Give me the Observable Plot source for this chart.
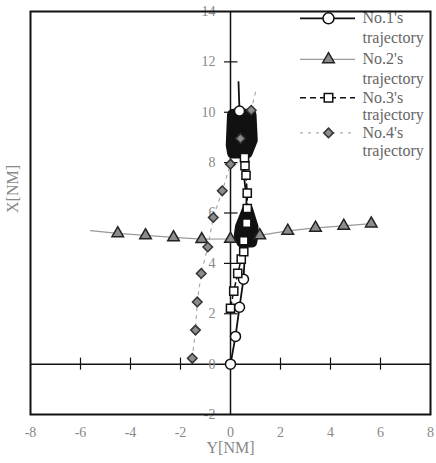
<!DOCTYPE html>
<html>
<head>
<meta charset="utf-8">
<script src="https://cdn.jsdelivr.net/npm/d3@7"></script>
<script src="https://cdn.jsdelivr.net/npm/@observablehq/plot@0.6"></script>
<style>
  html, body { margin: 0; padding: 0; background: #fff; }
  #chart svg { display: block; font-family: "Liberation Serif", "Times New Roman", serif; }
  #chart svg text { font-family: "Liberation Serif", "Times New Roman", serif; }
</style>
</head>
<body>
<div id="chart"></div>
<script>
// ---- Data (Y = horizontal, X = vertical, in NM) ----
const seriesNames = ["No.1's", "No.2's", "No.3's", "No.4's"];
const seriesSuffix = "trajectory";

// No.1: trajectory path and its visible markers
const no1Path = [[0,0],[0.2,1.1],[0.36,2.26],[0.52,3.37],[0.58,4.5],[0.62,5.6],[0.64,6.6],[0.5,7.8],[0.45,8.9],[0.36,10.05],[0.32,11.2]];
const no1Marks = [[0,0],[0.2,1.1],[0.36,2.26],[0.52,3.37],[0.36,10.05]];
// dense overlapping (black) parts of the trajectories
const denseUpper = [[0.1,9.9],[0.8,9.9],[0.15,9.45],[0.75,9.45],[0.05,8.7],[0.85,8.9],[0.1,8.4],[0.65,8.4]];
const denseLower = [[0.68,6.15],[0.4,5.45],[0.9,5.45],[0.35,5.1],[0.9,5.1],[0.45,4.85],[0.85,4.85]];

// No.2
const no2Y = [-5.6,-4.51,-3.4,-2.28,-1.15,0,1.17,2.29,3.4,4.53,5.63];
const no2X = [5.3,5.19,5.11,5.03,4.96,4.97,5.11,5.29,5.41,5.49,5.58];

// No.3
const no3 = [[0,2.22],[0.13,2.9],[0.29,3.6],[0.43,4.17],[0.53,4.46],[0.53,4.9],[0.65,5.6],[0.67,6.18],[0.67,6.79],[0.62,7.5],[0.58,7.88],[0.56,8.2]];

// No.4
const no4 = [[-1.53,0.23],[-1.4,1.35],[-1.33,2.47],[-1.17,3.6],[-0.91,4.65],[-0.69,5.82],[-0.33,6.88],[0,7.94],[0.4,8.96],[0.83,10.08]];
const no4End = [1.0,10.8];

// Ticks
const xTickLabels = [-8,-6,-4,-2,0,2,4,6,8];
const yTickLabels = [-2,0,2,4,6,8,10,12,14];
const xTickMarks = [-6,-4,-2,2,4,6];
const yTickMarks = [2,4,6,8,10,12];

// ---- Build ----
const no2 = no2Y.map((y, i) => [y, no2X[i]]);
const no4Path = [...no4, no4End];

const font = "Liberation Serif, Times New Roman, serif";

// legend layout (in data coordinates)
const legY = [13.73, 12.1, 10.58, 9.18];
const legY2 = [12.94, 11.34, 9.88, 8.45];
const legX1 = 2.8, legX2 = 5.0, legXm = 3.92, legXt = 5.28;
const leg = seriesNames.map((name, i) => ({name, i, y: legY[i]}));
const legLines = [
  ...seriesNames.map((name, i) => ({t: name, y: legY[i]})),
  ...seriesNames.map((name, i) => ({t: seriesSuffix, y: legY2[i]}))
];

const chart = Plot.plot({
  width: 436,
  height: 463,
  marginLeft: 30,
  marginRight: 6,
  marginTop: 11,
  marginBottom: 49,
  x: {domain: [-8, 8], axis: null},
  y: {domain: [-2, 14], axis: null},
  style: {fontFamily: font, background: "#fff"},
  marks: [
    // origin axes
    Plot.ruleY([0], {stroke: "#111", strokeWidth: 1.5}),
    Plot.ruleX([0], {stroke: "#111", strokeWidth: 1.5}),
    Plot.ruleX(xTickMarks, {x: d => d, y1: -0.24, y2: 0.24, stroke: "#111", strokeWidth: 1.2}),
    Plot.ruleY(yTickMarks, {y: d => d, x1: -0.24, x2: 0.3, stroke: "#111", strokeWidth: 1.2}),
    // tick labels
    Plot.text(xTickLabels, {x: d => d, frameAnchor: "bottom", dy: 22, text: d => String(d), fontSize: 14, fill: "#888", fontFamily: font}),
    Plot.text(yTickLabels, {x: 0, y: d => d, dx: -15, textAnchor: "end", text: d => String(d), fontSize: 14, fill: "#888", fontFamily: font}),
    // axis titles
    Plot.text(["Y[NM]"], {frameAnchor: "bottom", dy: 38, fontSize: 16, fill: "#888", fontFamily: font}),
    Plot.text(["X[NM]"], {frameAnchor: "left", dx: -18, rotate: -90, fontSize: 16, fill: "#888", fontFamily: font}),

    // trajectory lines
    Plot.line(no2, {x: d => d[0], y: d => d[1], stroke: "#999", strokeWidth: 1.2}),
    Plot.line(no4Path, {x: d => d[0], y: d => d[1], stroke: "#aaa", strokeWidth: 1.2, strokeDasharray: "3,5"}),
    Plot.line(no3, {x: d => d[0], y: d => d[1], stroke: "#111", strokeWidth: 1.5, strokeDasharray: "6,4"}),
    Plot.line(no1Path, {x: d => d[0], y: d => d[1], stroke: "#111", strokeWidth: 1.8}),
    // dense overlapping areas
    Plot.hull(denseUpper, {x: d => d[0], y: d => d[1], fill: "#111", stroke: "#111", strokeWidth: 12, strokeLinejoin: "round"}),
    Plot.hull(denseLower, {x: d => d[0], y: d => d[1], fill: "#111", stroke: "#111", strokeWidth: 11, strokeLinejoin: "round"}),

    // markers
    Plot.dot(no2.slice(1), {x: d => d[0], y: d => d[1], symbol: "triangle", r: 4.3, fill: "#8c8c8c", stroke: "#222", strokeWidth: 1.5}),
    Plot.dot(no1Marks, {x: d => d[0], y: d => d[1], symbol: "circle", r: 5, fill: "#fff", stroke: "#111", strokeWidth: 1.5}),
    Plot.dot(no3, {x: d => d[0], y: d => d[1], symbol: "square", r: 4.6, fill: "#fff", stroke: "#111", strokeWidth: 1.5}),
    Plot.dot(no4, {x: d => d[0], y: d => d[1], symbol: "diamond2", r: 4.3, fill: "#8c8c8c", stroke: "#333", strokeWidth: 1.5}),

    // legend
    Plot.ruleY(leg.filter(d => d.i === 0), {y: "y", x1: legX1, x2: legX2, stroke: "#111", strokeWidth: 1.8}),
    Plot.ruleY(leg.filter(d => d.i === 1), {y: "y", x1: legX1, x2: legX2, stroke: "#999", strokeWidth: 1.2}),
    Plot.ruleY(leg.filter(d => d.i === 2), {y: "y", x1: legX1, x2: legX2, stroke: "#111", strokeWidth: 1.5, strokeDasharray: "6,4"}),
    Plot.ruleY(leg.filter(d => d.i === 3), {y: "y", x1: legX1, x2: legX2, stroke: "#aaa", strokeWidth: 1.2, strokeDasharray: "3,5"}),
    Plot.dot(leg.filter(d => d.i === 0), {x: legXm, y: "y", symbol: "circle", r: 5.5, fill: "#fff", stroke: "#111", strokeWidth: 1.5}),
    Plot.dot(leg.filter(d => d.i === 1), {x: legXm, y: "y", symbol: "triangle", r: 4.3, fill: "#8c8c8c", stroke: "#222", strokeWidth: 1.5}),
    Plot.dot(leg.filter(d => d.i === 2), {x: legXm, y: "y", symbol: "square", r: 4.8, fill: "#fff", stroke: "#111", strokeWidth: 1.5}),
    Plot.dot(leg.filter(d => d.i === 3), {x: legXm, y: "y", symbol: "diamond2", r: 4.3, fill: "#8c8c8c", stroke: "#333", strokeWidth: 1.5}),
    Plot.text(legLines, {x: legXt, y: "y", text: "t", textAnchor: "start", fontSize: 16, fill: "#666", fontFamily: font}),

    // frame
    Plot.frame({stroke: "#111", strokeWidth: 2})
  ]
});

document.getElementById("chart").appendChild(chart);
</script>
</body>
</html>
